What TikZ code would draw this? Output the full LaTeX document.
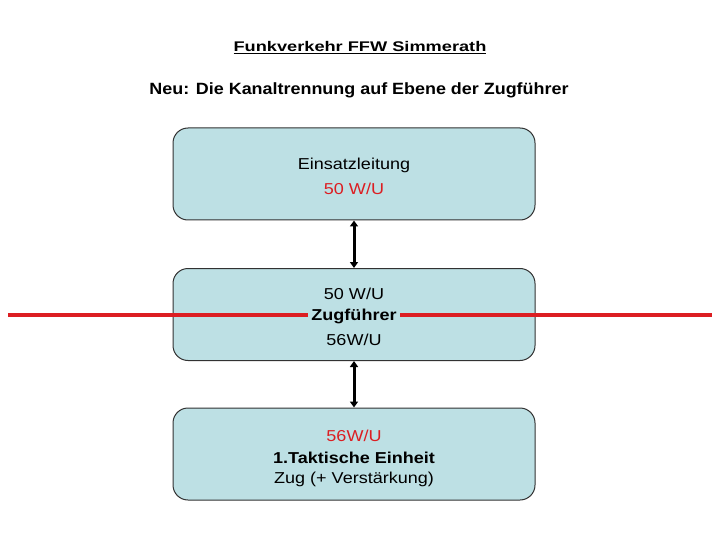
\documentclass[tikz,border=0pt]{standalone}
\usepackage{fontspec}
\setmainfont{Liberation Sans}[FakeStretch=1.14]
\newfontfamily\titlefont{Liberation Sans}[FakeStretch=1.3]
\newfontfamily\subfont{Liberation Sans}[FakeStretch=1.1]
\usetikzlibrary{arrows.meta}
\definecolor{boxfill}{RGB}{189,224,228}
\definecolor{boxline}{RGB}{50,50,50}
\definecolor{myred}{RGB}{220,30,34}
\tikzset{
  box/.style={draw=boxline, line width=1pt, fill=boxfill, rounded corners=15pt,
    minimum width=362pt, minimum height=92pt, inner sep=0pt},
  txt/.style={font=\fontsize{15.8}{18}\selectfont, inner sep=0pt},
  arr/.style={line width=3pt, {Triangle[length=6pt,width=8pt]}-{Triangle[length=6pt,width=8pt]}},
}
\begin{document}
\begin{tikzpicture}[x=1pt,y=-1pt]
\useasboundingbox (0,0) rectangle (720,540);
\node[inner sep=0pt, font=\titlefont\bfseries\fontsize{14}{16}\selectfont] (title) at (360,47.5) {\underline{Funkverkehr FFW Simmerath}};
\node[inner sep=0pt, font=\subfont\bfseries\fontsize{16.3}{19}\selectfont] (sub) at (359,90) {Neu: Die Kanaltrennung auf Ebene der Zugführer};
\node[box] (b1) at (354,174) {};
\node[box] (b2) at (354,314.5) {};
\node[box] (b3) at (354,454) {};
\draw[arr] (b1.south) -- (b2.north);
\draw[arr] (b2.south) -- (b3.north);
\node[txt] (t1a) at (354,165.5) {Einsatzleitung};
\node[txt, text=myred] (t1b) at (354,188.5) {50 W/U};
\coordinate (rl) at (8,315);
\coordinate (rr) at (712,315);
\draw[myred, line width=4pt] (rl) -- (rr);
\node[txt] (t2a) at (354,293.5) {50 W/U};
\node[txt, font=\bfseries\fontsize{15.8}{18}\selectfont, fill=boxfill, inner xsep=3pt, inner ysep=1pt] (t2b) at (354,316) {Zugführer};
\node[txt] (t2c) at (354,339.5) {56W/U};
\node[txt, text=myred] (t3a) at (354,435.5) {56W/U};
\node[txt, font=\bfseries\fontsize{15.8}{18}\selectfont] (t3b) at (354,457.5) {1.Taktische Einheit};
\node[txt] (t3c) at (354,479.5) {Zug (+ Verstärkung)};
\end{tikzpicture}
\end{document}
